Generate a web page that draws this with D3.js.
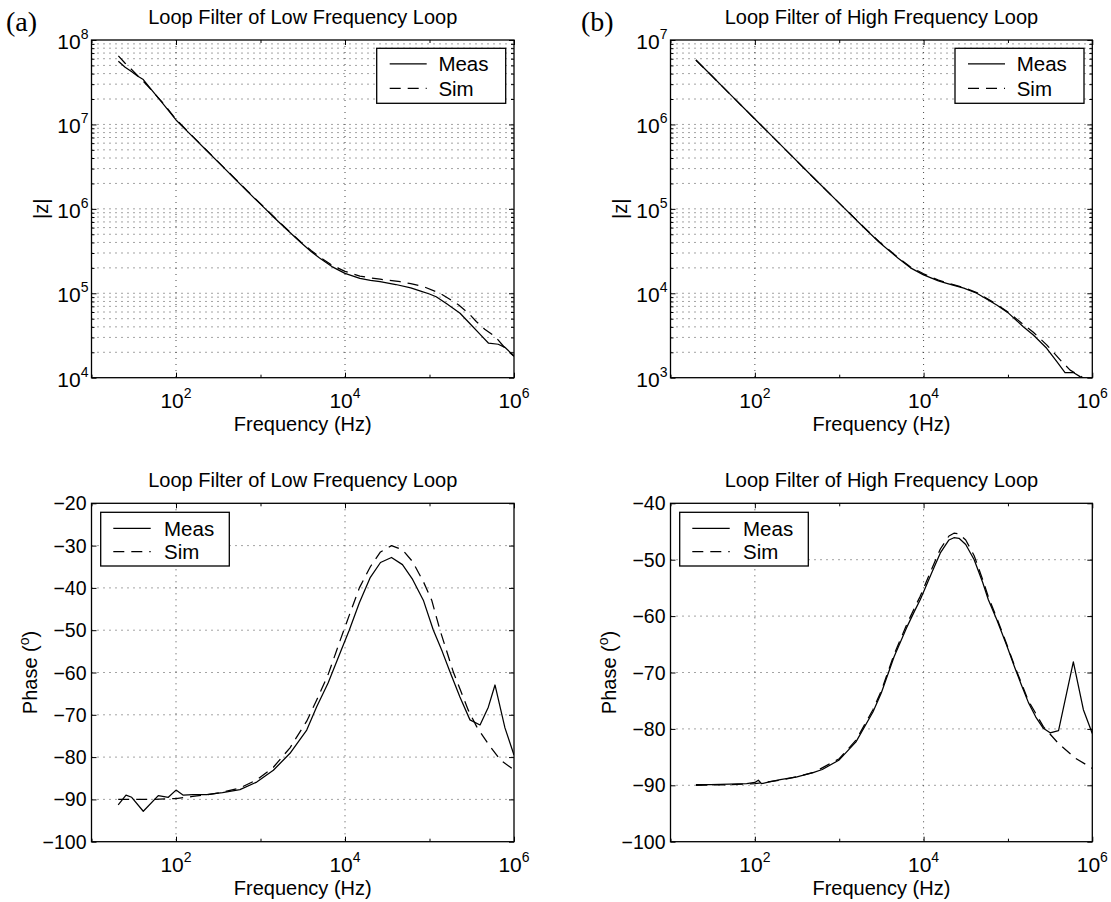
<!DOCTYPE html>
<html>
<head>
<meta charset="utf-8">
<script src="https://cdn.jsdelivr.net/npm/d3@7"></script>
<style>
  html, body { margin: 0; padding: 0; background: #fff; }
  svg { display: block; font-family: "Liberation Sans", Arial, Helvetica, sans-serif; }
</style>
</head>
<body>
<script>
// ---- Loop filter of the low frequency loop: impedance magnitude ----
const lowMagFreqMeas = [20.8, 25, 30, 35, 41, 50, 70, 100, 150, 230, 350, 500, 700, 1000, 1500, 2000, 3000, 4000, 5000, 7000, 10000, 15000, 20000, 26000, 40000, 60000, 77000, 100000, 120000, 160000, 230000, 300000, 400000, 500000, 650000, 780000, 1000000];
const lowMagMeas = [5.6e7, 4.75e7, 4.2e7, 3.75e7, 3.4e7, 2.66e7, 1.76e7, 1.13e7, 7.53e6, 4.91e6, 3.23e6, 2.26e6, 1.61e6, 1.137e6, 7.64e5, 5.8e5, 3.99e5, 3.11e5, 2.61e5, 2.07e5, 1.72e5, 1.5e5, 1.42e5, 1.37e5, 1.27e5, 1.16e5, 1.07e5, 9.8e4, 9.1e4, 7.5e4, 5.8e4, 4.38e4, 3.24e4, 2.56e4, 2.49e4, 2.29e4, 1.81e4];
const lowMagFreqSim = [20.8, 25, 30, 35, 41, 50, 70, 100, 150, 230, 350, 500, 700, 1000, 1500, 2000, 3000, 4000, 5000, 7000, 10000, 15000, 20000, 26000, 45000, 60000, 85000, 133000, 170000, 220000, 290000, 360000, 450000, 600000, 820000, 1000000];
const lowMagSim = [6.5e7, 5.3e7, 4.45e7, 3.8e7, 3.25e7, 2.62e7, 1.8e7, 1.15e7, 7.6e6, 4.95e6, 3.25e6, 2.28e6, 1.63e6, 1.15e6, 7.75e5, 5.9e5, 4.05e5, 3.2e5, 2.7e5, 2.15e5, 1.82e5, 1.6e5, 1.52e5, 1.47e5, 1.37e5, 1.3e5, 1.2e5, 1.0e5, 8.6e4, 7.3e4, 5.8e4, 4.6e4, 3.75e4, 3.06e4, 2.13e4, 1.8e4];

// ---- Loop filter of the high frequency loop: impedance magnitude ----
const highMagFreqMeas = [20, 30, 50, 100, 200, 500, 1000, 2000, 3000, 5000, 7000, 10000, 15000, 18800, 30000, 42700, 73600, 100000, 152000, 200000, 288000, 380000, 475000, 596000, 716000, 800000, 1000000];
const highMagMeas = [5.8e6, 3.87e6, 2.32e6, 1.16e6, 5.8e5, 2.32e5, 1.17e5, 5.9e4, 4.0e4, 2.6e4, 2.0e4, 1.65e4, 1.4e4, 1.31e4, 1.15e4, 1.0e4, 7.26e3, 5.9e3, 4.02e3, 3.2e3, 2.23e3, 1.55e3, 1.15e3, 1.15e3, 1.03e3, 9.3e2, 8.0e2];
const highMagFreqSim = [20, 30, 50, 100, 200, 500, 1000, 2000, 3000, 5000, 7000, 10000, 15000, 18800, 30000, 42700, 73600, 100000, 152000, 200000, 288000, 435000, 546000, 776000, 1000000];
const highMagSim = [5.8e6, 3.87e6, 2.32e6, 1.16e6, 5.8e5, 2.32e5, 1.17e5, 5.95e4, 4.05e4, 2.65e4, 2.05e4, 1.7e4, 1.43e4, 1.33e4, 1.17e4, 1.02e4, 7.4e3, 6.0e3, 4.27e3, 3.45e3, 2.45e3, 1.55e3, 1.23e3, 1.0e3, 8.5e2];

// ---- Low frequency loop: phase (degrees) ----
const lowPhFreqMeas = [20.7, 25.6, 29.9, 41, 61.7, 81.1, 100, 122, 158, 231, 355, 571, 902, 1419, 2234, 3524, 4624, 6310, 8913, 11220, 14790, 19950, 26300, 35480, 47860, 63100, 84530, 110900, 141300, 175000, 229100, 301300, 396300, 496600, 595700, 781600, 1000000];
const lowPhMeas = [-91.3, -89.0, -89.5, -92.8, -89.1, -89.5, -87.8, -89.0, -88.9, -88.85, -88.4, -87.7, -85.9, -83.1, -79.1, -73.6, -68.1, -62.5, -55, -50, -43.5, -37.5, -34, -32.8, -34.5, -38, -42.9, -49.95, -55, -59.9, -65.8, -71.2, -72.4, -68.2, -62.95, -73.1, -79.5];
const lowPhFreqSim = [20.7, 50, 100, 158, 231, 355, 571, 902, 1419, 2234, 3524, 4624, 6310, 8913, 11220, 14790, 19950, 26300, 35480, 47860, 63100, 84530, 106200, 133000, 191400, 287700, 361400, 500000, 700000, 1000000];
const lowPhSim = [-90, -90, -89.8, -89.3, -88.9, -88.3, -87.3, -85.4, -82.4, -77.8, -71.5, -66.5, -60.5, -52, -46.5, -40, -35, -31.5, -30, -31, -33.8, -38.5, -42.9, -49.95, -59.9, -68.9, -72.8, -77, -80.8, -83];

// ---- High frequency loop: phase (degrees) ----
const highPhFreqMeas = [20, 30, 50, 80, 100, 110, 120, 140, 200, 316, 500, 630, 1000, 1580, 2510, 3160, 4470, 6310, 7940, 9120, 12600, 15800, 20000, 22900, 26300, 31600, 39800, 50100, 58600, 73600, 96800, 121000, 144500, 174600, 214000, 263000, 316000, 398000, 596000, 784000, 1000000];
const highPhMeas = [-89.9, -89.9, -89.8, -89.7, -89.5, -89.1, -89.7, -89.5, -89.0, -88.5, -87.7, -87.2, -85.5, -82.3, -77, -73.6, -67.2, -62, -58.9, -57.1, -52.2, -48.8, -46.5, -46.1, -46.2, -47.3, -50.0, -54.0, -57.1, -60.6, -65.2, -69.2, -72.2, -75.3, -77.9, -79.9, -80.7, -80.3, -68.1, -76.6, -80.8];
const highPhFreqSim = [20, 50, 100, 200, 316, 500, 1000, 1580, 2510, 3160, 4470, 6310, 7940, 9120, 12600, 15800, 20000, 22900, 26300, 31600, 39800, 50100, 58600, 73600, 96800, 121000, 174600, 263000, 398000, 631000, 1000000];
const highPhSim = [-90, -89.9, -89.7, -89.1, -88.5, -87.7, -85.3, -82.0, -76.6, -73.2, -66.8, -61.5, -58.3, -56.5, -51.5, -48.1, -45.8, -45.3, -45.4, -46.5, -49.3, -53.5, -56.6, -60.3, -65.0, -69.0, -75.0, -79.6, -82.6, -85.2, -87.0];

// ---- Axis ticks ----
const freqTicks = [1e2, 1e4, 1e6];
const freqMinorTicks = [1e1, 1e3, 1e5];
const lowMagTicks = [1e4, 1e5, 1e6, 1e7, 1e8];
const highMagTicks = [1e3, 1e4, 1e5, 1e6, 1e7];
const lowPhTicks = [-100, -90, -80, -70, -60, -50, -40, -30, -20];
const highPhTicks = [-100, -90, -80, -70, -60, -50, -40];
const seriesNames = ["Meas", "Sim"];
const panelTitles = ["Loop Filter of Low Frequency Loop", "Loop Filter of High Frequency Loop"];

const W = 1111, H = 902;
const svg = d3.select("body").append("svg").attr("width", W).attr("height", H);

const zip = (xs, ys) => xs.map((x, i) => [x, ys[i]]);

const panels = [
  { id: "pa", x0: 91.5, x1: 514, y0: 40, y1: 377.7, log: true, yDomain: [1e4, 1e8], yTicks: lowMagTicks,
    title: panelTitles[0], ylabel: "|z|", legend: "tr",
    meas: zip(lowMagFreqMeas, lowMagMeas), sim: zip(lowMagFreqSim, lowMagSim) },
  { id: "pb", x0: 670.5, x1: 1092.3, y0: 40, y1: 377.7, log: true, yDomain: [1e3, 1e7], yTicks: highMagTicks,
    title: panelTitles[1], ylabel: "|z|", legend: "tr",
    meas: zip(highMagFreqMeas, highMagMeas), sim: zip(highMagFreqSim, highMagSim) },
  { id: "pc", x0: 91.5, x1: 514, y0: 503.3, y1: 841.7, log: false, yDomain: [-100, -20], yTicks: lowPhTicks,
    title: panelTitles[0], ylabel: "Phase", legend: "tl",
    meas: zip(lowPhFreqMeas, lowPhMeas), sim: zip(lowPhFreqSim, lowPhSim) },
  { id: "pd", x0: 670.5, x1: 1092.3, y0: 503.3, y1: 841.7, log: false, yDomain: [-100, -40], yTicks: highPhTicks,
    title: panelTitles[1], ylabel: "Phase", legend: "tl",
    meas: zip(highPhFreqMeas, highPhMeas), sim: zip(highPhFreqSim, highPhSim) }
];

const defs = svg.append("defs");

function supText(g, x, y, anchor, base, exp, size, expSize, rise) {
  const t = g.append("text").attr("x", x).attr("y", y).attr("text-anchor", anchor)
    .attr("font-size", size).attr("fill", "#000");
  t.append("tspan").text(base);
  t.append("tspan").attr("dy", -rise).attr("font-size", expSize).text(exp);
  return t;
}

panels.forEach(p => {
  const x = d3.scaleLog().domain([1e1, 1e6]).range([p.x0, p.x1]);
  const y = (p.log ? d3.scaleLog() : d3.scaleLinear()).domain(p.yDomain).range([p.y1, p.y0]);
  const g = svg.append("g");

  // dotted grid
  const grid = g.append("g").attr("stroke", "#333").attr("stroke-width", 0.9)
    .attr("stroke-dasharray", "1,5").attr("fill", "none");
  freqTicks.filter(v => v > 1e1 && v < 1e6).forEach(v => {
    grid.append("line").attr("x1", x(v)).attr("x2", x(v)).attr("y1", p.y0).attr("y2", p.y1);
  });
  let hLines = [];
  let yMinor = [];
  if (p.log) {
    const [lo, hi] = p.yDomain;
    for (let d = lo; d < hi; d *= 10) {
      for (let m = 1; m <= 9; m++) {
        const v = d * m;
        if (v > lo && v < hi) hLines.push(v);
        if (m > 1) yMinor.push(v);
      }
    }
  } else {
    hLines = p.yTicks.filter(v => v > p.yDomain[0] && v < p.yDomain[1]);
  }
  hLines.forEach(v => {
    grid.append("line").attr("x1", p.x0).attr("x2", p.x1).attr("y1", y(v)).attr("y2", y(v));
  });

  // inward ticks on all four sides
  const tk = g.append("g");
  const addAxis = (axis, tx, ty) => {
    const a = tk.append("g").attr("transform", `translate(${tx},${ty})`).call(axis);
    a.select(".domain").remove();
    a.selectAll("line").attr("stroke", "#000").attr("stroke-width", 1);
  };
  addAxis(d3.axisBottom(x).tickValues(freqTicks).tickSizeInner(-5).tickSizeOuter(0).tickFormat(""), 0, p.y1);
  addAxis(d3.axisTop(x).tickValues(freqTicks).tickSizeInner(-5).tickSizeOuter(0).tickFormat(""), 0, p.y0);
  addAxis(d3.axisBottom(x).tickValues(freqMinorTicks).tickSizeInner(-3).tickSizeOuter(0).tickFormat(""), 0, p.y1);
  addAxis(d3.axisTop(x).tickValues(freqMinorTicks).tickSizeInner(-3).tickSizeOuter(0).tickFormat(""), 0, p.y0);
  addAxis(d3.axisLeft(y).tickValues(p.yTicks).tickSizeInner(-5).tickSizeOuter(0).tickFormat(""), p.x0, 0);
  addAxis(d3.axisRight(y).tickValues(p.yTicks).tickSizeInner(-5).tickSizeOuter(0).tickFormat(""), p.x1, 0);
  if (yMinor.length) {
    addAxis(d3.axisLeft(y).tickValues(yMinor).tickSizeInner(-3).tickSizeOuter(0).tickFormat(""), p.x0, 0);
    addAxis(d3.axisRight(y).tickValues(yMinor).tickSizeInner(-3).tickSizeOuter(0).tickFormat(""), p.x1, 0);
  }

  // measured (solid) and simulated (dashed) curves
  defs.append("clipPath").attr("id", "clip-" + p.id).append("rect")
    .attr("x", p.x0).attr("y", p.y0).attr("width", p.x1 - p.x0).attr("height", p.y1 - p.y0);
  const line = d3.line().x(d => x(d[0])).y(d => y(d[1]));
  const cg = g.append("g").attr("clip-path", `url(#clip-${p.id})`).attr("fill", "none")
    .attr("stroke", "#000").attr("stroke-width", 1.25).attr("stroke-linejoin", "round");
  cg.append("path").attr("d", line(p.sim)).attr("stroke-dasharray", "11,7");
  cg.append("path").attr("d", line(p.meas));

  // frame
  g.append("rect").attr("x", p.x0).attr("y", p.y0).attr("width", p.x1 - p.x0).attr("height", p.y1 - p.y0)
    .attr("fill", "none").attr("stroke", "#000").attr("stroke-width", 1.3);

  // tick labels
  const lab = g.append("g");
  freqTicks.forEach(v => {
    supText(lab, x(v), p.y1 + 30, "middle", "10", String(Math.round(Math.log10(v))), 21, 14, 10);
  });
  p.yTicks.forEach(v => {
    if (p.log) {
      supText(lab, p.x0 - 3, y(v) + 9, "end", "10", String(Math.round(Math.log10(v))), 21, 14, 10);
    } else {
      lab.append("text").attr("x", p.x0 - 5).attr("y", y(v) + 7).attr("text-anchor", "end")
        .attr("font-size", 19.5).text(String(v).replace("-", "\u2212"));
    }
  });

  // title and axis labels
  const cx = (p.x0 + p.x1) / 2;
  g.append("text").attr("x", cx).attr("y", p.y0 - 16).attr("text-anchor", "middle")
    .attr("font-size", 20).text(p.title);
  g.append("text").attr("x", cx).attr("y", p.y1 + 53.5).attr("text-anchor", "middle")
    .attr("font-size", 20).text("Frequency (Hz)");
  const ym = (p.y0 + p.y1) / 2;
  if (p.log) {
    g.append("text").attr("transform", `translate(${p.x0 - 44},${ym}) rotate(-90)`)
      .attr("text-anchor", "middle").attr("font-size", 20).text(p.ylabel);
  } else {
    const t = g.append("text").attr("transform", `translate(${p.x0 - 55},${ym}) rotate(-90)`)
      .attr("text-anchor", "middle").attr("font-size", 20);
    t.append("tspan").text(p.ylabel + " (");
    t.append("tspan").attr("dy", -8).attr("font-size", 14).text("o");
    t.append("tspan").attr("dy", 8).text(")");
  }

  // legend
  let lx, ly, lw, lh, rows, lineA, lineB, textX;
  if (p.legend === "tr") {
    lw = 129; lh = 55; lx = p.x1 - 8.3 - lw; ly = p.y0 + 8.3;
    rows = [15.5, 40]; lineA = 13; lineB = 50; textX = 61.7;
  } else {
    lw = 128.6; lh = 53.7; lx = p.x0 + 9.2; ly = p.y0 + 9;
    rows = [16, 39.4]; lineA = 12.6; lineB = 50; textX = 63.3;
  }
  const lg = g.append("g").attr("transform", `translate(${lx},${ly})`);
  lg.append("rect").attr("width", lw).attr("height", lh).attr("fill", "#fff")
    .attr("stroke", "#000").attr("stroke-width", 1.3);
  seriesNames.forEach((name, i) => {
    lg.append("line").attr("x1", lineA).attr("x2", lineB).attr("y1", rows[i]).attr("y2", rows[i])
      .attr("stroke", "#000").attr("stroke-width", 1.2)
      .attr("stroke-dasharray", i === 1 ? "11,7" : null);
    lg.append("text").attr("x", textX).attr("y", rows[i] + 7.5).attr("font-size", 20.5).text(name);
  });
});

// panel letters
svg.append("text").attr("x", 6).attr("y", 31).attr("font-family", "'Liberation Serif', 'Times New Roman', serif")
  .attr("font-size", 28).text("(a)");
svg.append("text").attr("x", 581).attr("y", 31).attr("font-family", "'Liberation Serif', 'Times New Roman', serif")
  .attr("font-size", 28).text("(b)");
</script>
</body>
</html>
